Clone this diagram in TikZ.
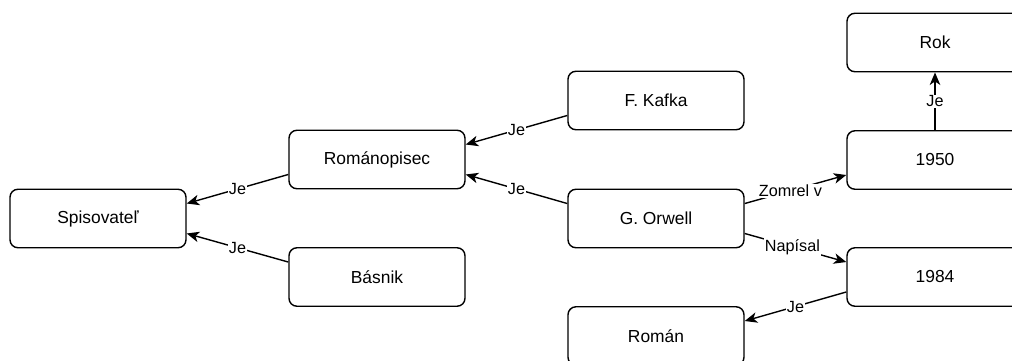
\documentclass[tikz,border=0pt]{standalone}
\usepackage{fontspec}
\setmainfont{Liberation Sans}
\usetikzlibrary{arrows.meta,calc}
\begin{document}
\begin{tikzpicture}[x=1pt,y=1pt,
  box/.style={draw=black,line width=1.4pt,rounded corners=8pt,minimum width=176pt,minimum height=58.5pt,inner sep=0pt,font=\fontsize{17.4}{20}\selectfont,fill=white},
  rel/.style={line width=1.4pt,-{Stealth[length=12.5pt,width=10.5pt,inset=3.5pt]}},
  lab/.style={fill=white,inner sep=1pt,font=\fontsize{16.2}{18}\selectfont}]
\useasboundingbox (0,0) rectangle (1012,-360);
\clip (0,0) rectangle (1012,-360);
\node[box] (spis) at (98,-218.5) {Spisovateľ};
\node[box] (romp) at (377,-159.5) {Románopisec};
\node[box] (bas) at (377,-277) {Básnik};
\node[box] (kaf) at (656,-100.5) {F. Kafka};
\node[box] (orw) at (656,-218.5) {G. Orwell};
\node[box] (rom) at (656,-336) {Román};
\node[box] (rok) at (935,-42.5) {Rok};
\node[box] (y50) at (935,-160) {1950};
\node[box] (y84) at (935,-277) {1984};
\newcommand{\lp}[2]{($(#1.north west)!#2!(#1.south west)$)}
\newcommand{\rp}[2]{($(#1.north east)!#2!(#1.south east)$)}
\draw[rel] \lp{romp}{0.75} -- node[lab]{Je} \rp{spis}{0.25};
\draw[rel] \lp{bas}{0.25} -- node[lab]{Je} \rp{spis}{0.75};
\draw[rel] \lp{kaf}{0.75} -- node[lab]{Je} \rp{romp}{0.25};
\draw[rel] \lp{orw}{0.25} -- node[lab]{Je} \rp{romp}{0.75};
\draw[rel] \rp{orw}{0.25} -- node[lab,pos=0.45]{Zomrel v} \lp{y50}{0.75};
\draw[rel] \rp{orw}{0.75} -- node[lab,pos=0.47]{Napísal} \lp{y84}{0.25};
\draw[rel] \lp{y84}{0.75} -- node[lab]{Je} \rp{rom}{0.25};
\draw[rel] (y50.north) -- node[lab]{Je} (rok.south);
\end{tikzpicture}
\end{document}
